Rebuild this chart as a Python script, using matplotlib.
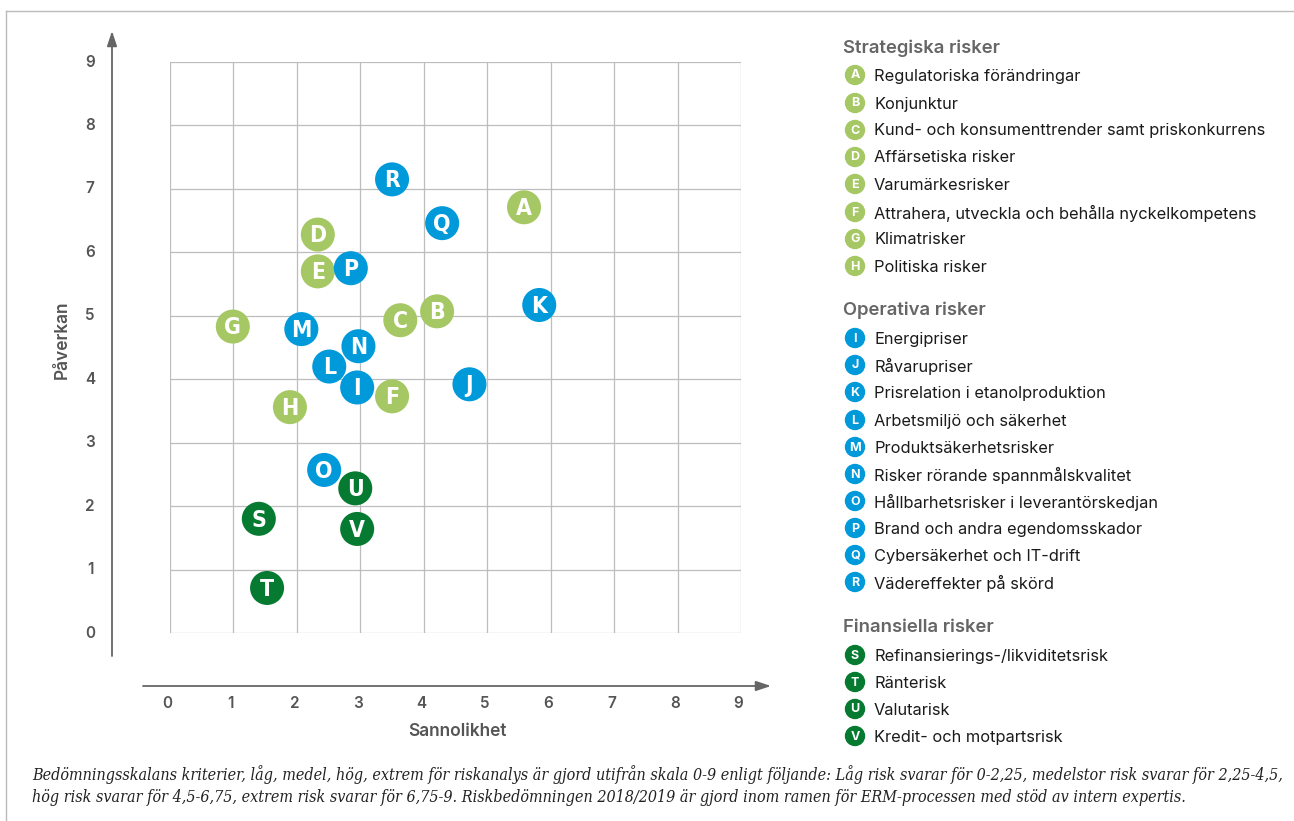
import matplotlib
matplotlib.use("Agg")
import matplotlib.pyplot as plt

plt.rcParams['font.family'] = ['Inter', 'DejaVu Sans']

# ---- data ----
letters = ["A", "B", "C", "D", "E", "F", "G", "H",
           "I", "J", "K", "L", "M", "N", "O", "P", "Q", "R",
           "S", "T", "U", "V"]
sannolikhet = [5.58, 4.21, 3.63, 2.33, 2.33, 3.50, 0.99, 1.89,
               2.95, 4.72, 5.82, 2.51, 2.07, 2.97, 2.43, 2.85, 4.29, 3.50,
               1.40, 1.53, 2.92, 2.95]
paverkan = [6.71, 5.07, 4.93, 6.28, 5.70, 3.73, 4.83, 3.56,
            3.87, 3.92, 5.17, 4.20, 4.79, 4.52, 2.57, 5.75, 6.46, 7.15,
            1.80, 0.71, 2.28, 1.64]
groups = ["S"] * 8 + ["O"] * 10 + ["F"] * 4

group_titles = ["Strategiska risker", "Operativa risker", "Finansiella risker"]
group_colors = {"S": "#a6c864", "O": "#0099da", "F": "#067a30"}

names = [
    "Regulatoriska förändringar",
    "Konjunktur",
    "Kund- och konsumenttrender samt priskonkurrens",
    "Affärsetiska risker",
    "Varumärkesrisker",
    "Attrahera, utveckla och behålla nyckelkompetens",
    "Klimatrisker",
    "Politiska risker",
    "Energipriser",
    "Råvarupriser",
    "Prisrelation i etanolproduktion",
    "Arbetsmiljö och säkerhet",
    "Produktsäkerhetsrisker",
    "Risker rörande spannmålskvalitet",
    "Hållbarhetsrisker i leverantörskedjan",
    "Brand och andra egendomsskador",
    "Cybersäkerhet och IT-drift",
    "Vädereffekter på skörd",
    "Refinansierings-/likviditetsrisk",
    "Ränterisk",
    "Valutarisk",
    "Kredit- och motpartsrisk",
]
ticks = list(range(10))
xlabel = "Sannolikhet"
ylabel = "Påverkan"
footnote = ("Bedömningsskalans kriterier, låg, medel, hög, extrem för riskanalys är gjord utifrån skala 0-9 enligt följande: "
            "Låg risk svarar för 0-2,25, medelstor risk svarar för 2,25-4,5,\n"
            "hög risk svarar för 4,5-6,75, extrem risk svarar för 6,75-9. Riskbedömningen 2018/2019 är gjord inom ramen "
            "för ERM-processen med stöd av intern expertis.")

W, H = 1294, 821
fig = plt.figure(figsize=(W / 100, H / 100), dpi=100)

# frame lines (top and left)
fig.add_artist(plt.Line2D([6 / W, 1], [1 - 11 / H, 1 - 11 / H], color="#bbbbbb", lw=1))
fig.add_artist(plt.Line2D([6 / W, 6 / W], [0, 1 - 11 / H], color="#bbbbbb", lw=1))

gx0, gx1, gy0, gy1 = 170, 741, 633, 62
ax = fig.add_axes([gx0 / W, 1 - gy0 / H, (gx1 - gx0) / W, (gy0 - gy1) / H])
ax.set_xlim(0, 9)
ax.set_ylim(0, 9)
for s in ax.spines.values():
    s.set_visible(False)
ax.set_xticks([])
ax.set_yticks([])
for t in ticks:
    ax.axvline(t, color="#bdbdbd", lw=0.9, zorder=1)
    ax.axhline(t, color="#bdbdbd", lw=0.9, zorder=1)

ppu = (gx1 - gx0) / 9.0
# axis arrows
yax_x = (112 - gx0) / ppu
ax.annotate("", xy=(yax_x, (gy0 - 31) / ppu), xytext=(yax_x, (gy0 - 656) / ppu),
            xycoords="data", annotation_clip=False,
            arrowprops=dict(arrowstyle="-|>,head_length=0.9,head_width=0.3", color="#666666", lw=1.3,
                            shrinkA=0, shrinkB=0))
xax_y = (gy0 - 686) / ppu
ax.annotate("", xy=((771 - gx0) / ppu, xax_y), xytext=((143 - gx0) / ppu, xax_y),
            xycoords="data", annotation_clip=False,
            arrowprops=dict(arrowstyle="-|>,head_length=0.9,head_width=0.3", color="#666666", lw=1.3,
                            shrinkA=0, shrinkB=0))

# tick labels
for t in ticks:
    ax.text((90 - gx0) / ppu, t, str(t), ha="center", va="center", fontsize=11,
            fontweight="semibold", color="#555555", clip_on=False)
    ax.text(t - 0.04, (gy0 - 704) / ppu, str(t), ha="center", va="center", fontsize=11,
            fontweight="semibold", color="#555555", clip_on=False)
ax.text((457 - gx0) / ppu, (gy0 - 731) / ppu, xlabel, ha="center", va="center", fontsize=12.5,
        fontweight="semibold", color="#555555", clip_on=False)
ax.text((62 - gx0) / ppu, (gy0 - 340) / ppu, ylabel, ha="center", va="center", fontsize=12.5,
        fontweight="semibold", color="#555555", rotation=90, clip_on=False)

# points
cols = [group_colors[g] for g in groups]
ax.scatter(sannolikhet, paverkan, s=600, c=cols, edgecolors="none", zorder=3, clip_on=False)
for xv, yv, l in zip(sannolikhet, paverkan, letters):
    ax.text(xv, yv - 0.02, l, ha="center", va="center", color="white", fontsize=16.5,
            fontweight="bold", zorder=4, family=["DejaVu Sans"], fontstretch="condensed")

# legend
legend_ys = [75, 103, 130, 157, 184, 212, 239, 266,
             338, 365, 392, 420, 447, 474, 501, 528, 555, 582,
             655, 682, 709, 736]
header_ys = [48, 310, 627]
for title, hy in zip(group_titles, header_ys):
    fig.text(843 / W, 1 - hy / H, title, ha="left", va="center", fontsize=13.3,
             fontweight="semibold", color="#666666")
for l, n, g, ly in zip(letters, names, groups, legend_ys):
    fig.add_artist(matplotlib.patches.Ellipse((855 / W, 1 - ly / H), 19 / W, 19 / H,
                                              color=group_colors[g], transform=fig.transFigure))
    fig.text(855 / W, 1 - (ly + 0.5) / H, l, ha="center", va="center", fontsize=9,
             fontweight="bold", color="white")
    fig.text(874 / W, 1 - (ly + 1) / H, n, ha="left", va="center", fontsize=11.8, color="#1a1a1a")

fig.text(32 / W, 1 - 785.5 / H, footnote, ha="left", va="center", fontsize=11.5,
         style="italic", color="#222222", family=["DejaVu Serif"], linespacing=1.45,
         fontstretch="condensed")

fig.savefig("out.png", dpi=100)
